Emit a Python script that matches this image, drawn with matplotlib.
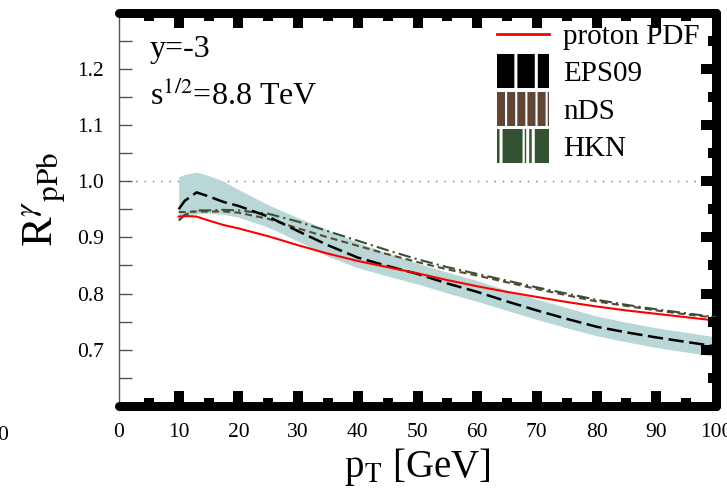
import matplotlib
matplotlib.use("Agg")
import matplotlib.pyplot as plt
from matplotlib.lines import Line2D
from matplotlib.ticker import FixedLocator

plt.rcParams['font.family'] = ['Liberation Serif', 'DejaVu Serif']
plt.rcParams['mathtext.fontset'] = 'stix'
plt.rcParams['lines.scale_dashes'] = False

# transverse momentum grid [GeV]
pt = [10, 11, 13, 15, 17.5, 20, 25, 30, 35, 40, 45, 50, 55, 60, 65, 70, 75, 80, 85, 90, 95, 100]

proton = [0.937, 0.938, 0.937, 0.930, 0.922, 0.916, 0.902, 0.886, 0.871, 0.858, 0.847, 0.836,
          0.824, 0.813, 0.803, 0.794, 0.785, 0.777, 0.770, 0.764, 0.758, 0.752]
eps09 = [0.950, 0.965, 0.980, 0.973, 0.963, 0.956, 0.937, 0.911, 0.886, 0.864, 0.849, 0.835,
         0.818, 0.803, 0.786, 0.770, 0.755, 0.741, 0.731, 0.722, 0.714, 0.706]
nds = [0.945, 0.945, 0.946, 0.946, 0.946, 0.944, 0.933, 0.916, 0.900, 0.885, 0.870, 0.856,
       0.843, 0.832, 0.820, 0.808, 0.797, 0.786, 0.778, 0.770, 0.763, 0.757]
hkn = [0.930, 0.940, 0.948, 0.948, 0.949, 0.948, 0.942, 0.928, 0.911, 0.894, 0.877, 0.861,
       0.847, 0.835, 0.823, 0.811, 0.800, 0.789, 0.780, 0.772, 0.765, 0.758]
# EPS09 uncertainty band
band_hi = [1.008, 1.012, 1.016, 1.010, 1.000, 0.985, 0.958, 0.935, 0.913, 0.891, 0.872, 0.854,
           0.838, 0.823, 0.806, 0.790, 0.775, 0.760, 0.749, 0.739, 0.731, 0.723]
band_lo = [0.930, 0.936, 0.942, 0.943, 0.941, 0.936, 0.918, 0.893, 0.866, 0.846, 0.831, 0.817,
           0.801, 0.786, 0.770, 0.754, 0.739, 0.725, 0.714, 0.704, 0.696, 0.688]

xticks = [0, 10, 20, 30, 40, 50, 60, 70, 80, 90, 100]
yticks = [0.7, 0.8, 0.9, 1.0, 1.1, 1.2]

c_red = '#ff0000'
c_brown = '#5f4637'
c_green = '#325232'
c_band = '#b9d7d6'

fig = plt.figure(figsize=(7.27, 4.91), dpi=100)
ax = fig.add_axes([0.1637, 0.1731, 0.8212, 0.8014])

ax.axhline(1.0, color='#777777', lw=1.0, linestyle=(0, (1, 5)), zorder=1)
ax.fill_between(pt, band_lo, band_hi, color=c_band, lw=0, zorder=2)
ax.plot(pt, proton, color=c_red, lw=1.5, zorder=5)
ax.plot(pt, eps09, color='black', lw=1.8, dashes=(11, 4), zorder=4)
ax.plot(pt, nds, color=c_brown, lw=1.5, dashes=(5, 3), zorder=3)
ax.plot(pt, hkn, color=c_green, lw=1.5, dashes=(9, 3, 1.5, 3), zorder=3)

ax.set_xlim(0, 100)
ax.set_ylim(0.6, 1.3)

# frame: thin left spine, thick top / bottom / right
for side in ['top', 'bottom', 'right']:
    ax.spines[side].set_linewidth(6.5)
    ax.spines[side].set_capstyle('round')
    ax.spines[side].set_joinstyle('round')
ax.spines['left'].set_linewidth(1.0)
ax.spines['left'].set_color('#555555')

ax.set_xticks(xticks)
ax.xaxis.set_minor_locator(FixedLocator([5, 15, 25, 35, 45, 55, 65, 75, 85, 95]))
ax.tick_params(axis='x', which='major', direction='in', top=True, bottom=True,
               length=11, width=7.2, labelsize=15.5, pad=12)
ax.tick_params(axis='x', which='minor', direction='in', top=True, bottom=True,
               length=6, width=7.2)
for t in [ax.xaxis.get_major_ticks()[0], ax.xaxis.get_major_ticks()[-1]]:
    t.tick1line.set_visible(False)
    t.tick2line.set_visible(False)

ax.set_yticks(yticks)
ax.yaxis.set_minor_locator(FixedLocator([0.65, 0.75, 0.85, 0.95, 1.05, 1.15, 1.25]))
ax.tick_params(axis='y', which='both', direction='in', left=True, right=False,
               length=9, width=1.0, color='#555555', labelsize=15.5, pad=11)

twin = ax.twinx()
twin.set_ylim(0.6, 1.3)
twin.set_yticks(yticks)
twin.yaxis.set_minor_locator(FixedLocator([0.65, 0.75, 0.85, 0.95, 1.05, 1.15, 1.25]))
twin.tick_params(axis='y', which='major', direction='in', length=11, width=7.2, labelright=False)
twin.tick_params(axis='y', which='minor', direction='in', length=6, width=7.2)
for side in ['top', 'bottom', 'left', 'right']:
    twin.spines[side].set_visible(False)

ax.set_xlabel(r'p$_{\mathrm{T}}$ [GeV]', fontsize=28, labelpad=3)
ax.set_ylabel(r'R$^{\gamma}{}_{\mathrm{pPb}}$', fontsize=32)
ax.yaxis.set_label_coords(-0.085, 0.524)

ax.text(0.052, 0.887, 'y=-3', transform=ax.transAxes, fontsize=23)
ax.text(0.052, 0.765, r's$^{1/2}$=8.8 TeV', transform=ax.transAxes, fontsize=23)

handles = [
    Line2D([], [], color=c_red, lw=2.0),
    Line2D([], [], color='black', lw=24.5, dashes=(12.5, 2.2)),
    Line2D([], [], color=c_brown, lw=24.5, dashes=(5.8, 1.5)),
    Line2D([], [], color=c_green, lw=24.5, dashes=(1.8, 2.2, 14.4, 1.6, 1.0, 2.2)),
]
labels = ['proton PDF', 'EPS09', 'nDS', 'HKN']
ax.legend(handles, labels, loc='upper right', bbox_to_anchor=(0.973, 0.972),
          frameon=False, fontsize=21, handlelength=1.78, handletextpad=0.5,
          labelspacing=0.38, borderpad=0, borderaxespad=0)

# tick label from the neighbouring panel, cut by the left edge
fig.text(0.004, 0.114, '0', fontsize=15.5, ha='center', va='center')

fig.savefig('out.png', dpi=100)
